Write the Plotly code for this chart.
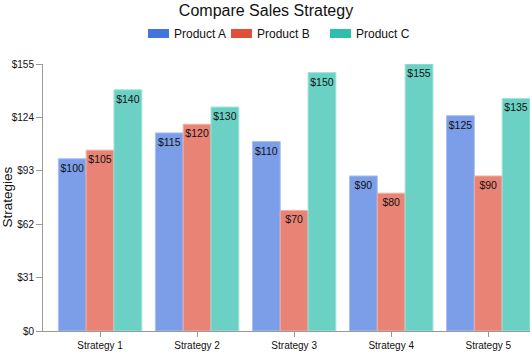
import plotly.graph_objects as go

categories = ["Strategy 1", "Strategy 2", "Strategy 3", "Strategy 4", "Strategy 5"]
series_names = ["Product A", "Product B", "Product C"]
product_a = [100, 115, 110, 90, 125]
product_b = [105, 120, 70, 80, 90]
product_c = [140, 130, 150, 155, 135]
y_ticks = [0, 31, 62, 93, 124, 155]
y_tick_labels = [f"${v}" for v in y_ticks]

base_colors = ["#4475DE", "#DF4F3A", "#2EBEAD"]


def rgba(hexc, a):
    h = hexc.lstrip("#")
    r, g, b = int(h[0:2], 16), int(h[2:4], 16), int(h[4:6], 16)
    return f"rgba({r},{g},{b},{a})"


def tint(hexc, a):
    h = hexc.lstrip("#")
    r, g, b = int(h[0:2], 16), int(h[2:4], 16), int(h[4:6], 16)
    return "rgb({},{},{})".format(*[round(c * a + 255 * (1 - a)) for c in (r, g, b)])


W, H = 532, 355
L, R, T, B = 43, 2, 64, 24
PW, PH = W - L - R, H - T - B


def px_x(px):
    return (px - L) / PW


def px_y(py):
    return (H - B - py) / PH


FONT = "Liberation Sans, Arial, sans-serif"

fig = go.Figure()
for name, vals, col in zip(series_names, [product_a, product_b, product_c], base_colors):
    fig.add_trace(go.Bar(
        x=categories, y=vals, name=name,
        marker=dict(color=rgba(col, 0.7), line=dict(color=tint(col, 0.45), width=1)),
        text=[f"${v}" for v in vals],
        textposition="inside", insidetextanchor="end", textangle=0,
        insidetextfont=dict(family=FONT, size=10.5, color="#111"),
        showlegend=False, hoverinfo="x+y+name",
    ))

# manual legend
shapes = []
annotations = []
legend_items = [(148, "Product A"), (231, "Product B"), (330, "Product C")]
for (x0, label), col in zip(legend_items, base_colors):
    shapes.append(dict(type="rect", xref="paper", yref="paper",
                       x0=px_x(x0), x1=px_x(x0 + 21), y0=px_y(38), y1=px_y(29),
                       fillcolor=col, line=dict(width=0)))
    annotations.append(dict(xref="paper", yref="paper", x=px_x(x0 + 24), y=px_y(33.5),
                            text=label, showarrow=False, xanchor="left", yanchor="middle",
                            font=dict(family=FONT, size=12, color="#111")))

fig.update_layout(
    width=W, height=H,
    margin=dict(l=L, r=R, t=T, b=B, autoexpand=False),
    paper_bgcolor="white", plot_bgcolor="white",
    title=dict(text="Compare Sales Strategy", x=0.5, xref="container", xanchor="center",
               y=1 - 10 / H, yref="container", yanchor="middle",
               font=dict(family=FONT, size=16, color="#111")),
    barmode="group", bargap=0.14, bargroupgap=0,
    uniformtext=dict(minsize=10.5, mode="show"),
    showlegend=False,
    shapes=shapes, annotations=annotations,
    font=dict(family=FONT, size=10, color="#111"),
    xaxis=dict(type="category", range=[-0.588, 4.43], showgrid=False,
               showline=True, linecolor="#999", linewidth=1,
               ticks="outside", ticklen=5, tickcolor="#999",
               tickfont=dict(family=FONT, size=10, color="#111")),
    yaxis=dict(range=[0, 155], tickvals=y_ticks, ticktext=y_tick_labels, showgrid=False,
               zeroline=False, showline=True, linecolor="#999", linewidth=1,
               ticks="outside", ticklen=6, tickcolor="#999",
               tickfont=dict(family=FONT, size=10, color="#111")),
)
fig.add_annotation(xref="paper", yref="paper", x=px_x(7), y=0.5, text="Strategies",
                   textangle=-90, showarrow=False, xanchor="center", yanchor="middle",
                   font=dict(family=FONT, size=13.5, color="#111"))

fig.write_html("out.html", config={"displayModeBar": False},
               post_script="document.body.style.margin='0';document.body.style.overflow='hidden';")
